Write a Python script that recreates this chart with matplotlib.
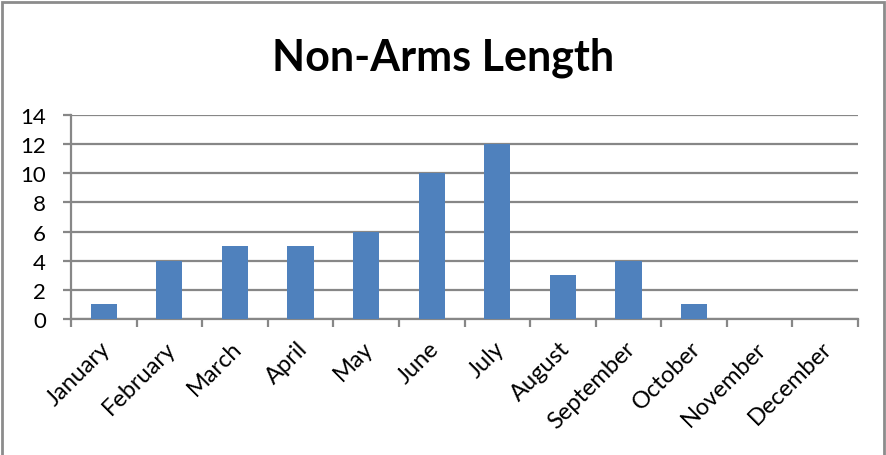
import matplotlib
matplotlib.use("Agg")
import matplotlib.pyplot as plt
import matplotlib.transforms as mtransforms
from matplotlib.patches import Rectangle
import numpy as np

months = ["January", "February", "March", "April", "May", "June", "July",
          "August", "September", "October", "November", "December"]
counts = [1, 4, 5, 5, 6, 10, 12, 3, 4, 1, 0, 0]
y_ticks = [0, 2, 4, 6, 8, 10, 12, 14]

plt.rcParams["font.family"] = ["Lato", "DejaVu Sans"]

W, H = 886, 456
fig = plt.figure(figsize=(W / 100, H / 100), dpi=100)

# chart frame
fig.patches.append(Rectangle((2 / W, -0.1), (W - 4) / W, 1.1 - 3 / H,
                             transform=fig.transFigure, fill=False,
                             edgecolor="#8c8c8c", linewidth=2))

ax = fig.add_axes([71 / W, 1 - 320 / H, (858 - 71) / W, (320 - 116) / H])
x = np.arange(len(months))
ax.bar(x, counts, width=0.4, color="#4f81bd", zorder=3)

ax.set_xlim(-0.5, len(months) - 0.5)
ax.set_ylim(0, 14)
ax.set_yticks(y_ticks)
ax.yaxis.grid(True, color="#878787", linewidth=1.6, zorder=0)
ax.set_axisbelow(True)

ax.set_xticks(x)
ax.set_xticklabels(months, rotation=45, ha="right", va="top",
                   rotation_mode="anchor", fontsize=17)
ax.tick_params(axis="x", length=0, pad=13)
shift = mtransforms.ScaledTranslation(-4 / 100, 0, fig.dpi_scale_trans)
for lbl in ax.get_xticklabels():
    lbl.set_transform(lbl.get_transform() + shift)
ax.set_xticks(np.arange(-0.5, len(months)), minor=True)
ax.tick_params(axis="x", which="minor", length=6, width=1.6, color="#878787")
ax.tick_params(axis="y", length=6, width=1.6, color="#878787", labelsize=16, pad=12)

for side in ["top", "right"]:
    ax.spines[side].set_visible(False)
for side in ["left", "bottom"]:
    ax.spines[side].set_color("#878787")
    ax.spines[side].set_linewidth(1.6)

fig.text(0.5, 1 - 70 / H, "Non-Arms Length", ha="center", va="baseline",
         fontsize=31, fontweight="bold")

fig.savefig("out.png", dpi=100)
